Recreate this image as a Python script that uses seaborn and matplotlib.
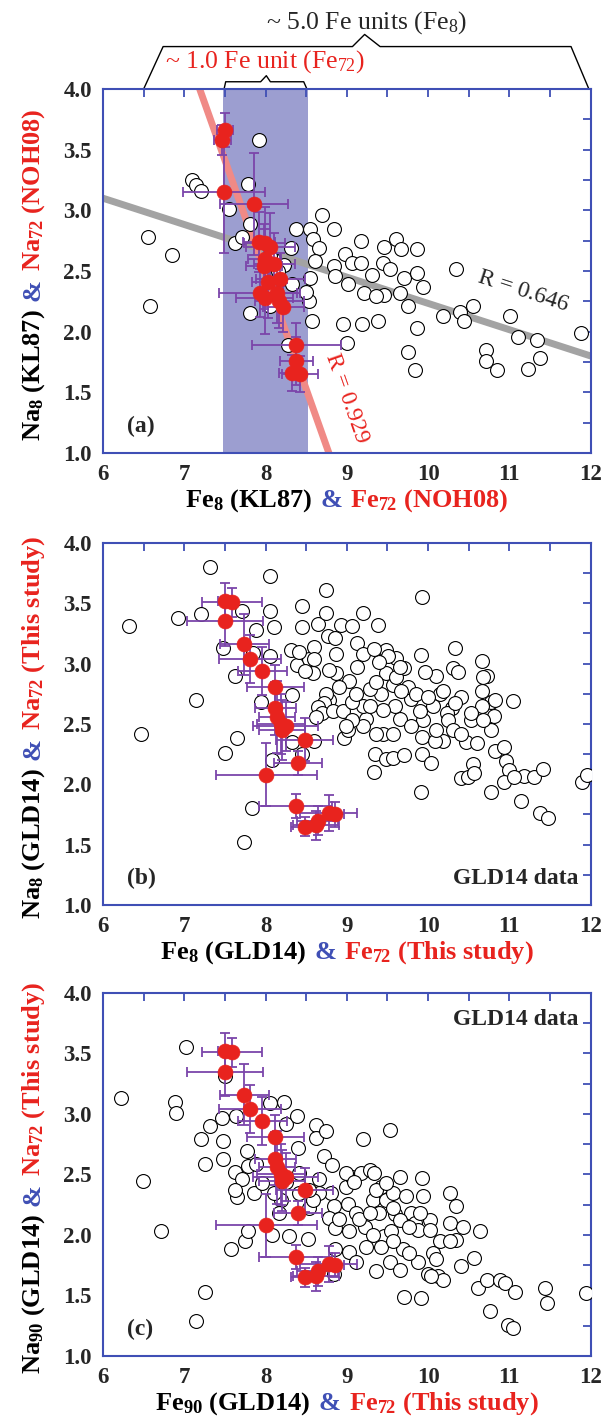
import numpy as np
import pandas as pd
import matplotlib
matplotlib.use("Agg")
import matplotlib.pyplot as plt
import seaborn as sns
from matplotlib import transforms
from matplotlib.ticker import MultipleLocator, FormatStrFormatter

sns.set_style("white")
plt.rcParams["font.family"] = ["Liberation Serif", "DejaVu Serif"]
plt.rcParams["mathtext.fontset"] = "custom"
plt.rcParams["mathtext.rm"] = "Liberation Serif"
plt.rcParams["mathtext.it"] = "Liberation Serif:italic"
plt.rcParams["mathtext.bf"] = "Liberation Serif:bold"
plt.rcParams["mathtext.default"] = "regular"

BLUE = "#3f4fb5"
RED = "#e8231e"
PURPLE = "#7b45aa"

# (a) KL87 open circles
kl87_fe8 = [6.55, 6.58, 6.85, 7.09, 7.15, 7.21, 7.92, 7.79, 7.55, 7.81, 7.63, 7.71,
            8.38, 8.31, 8.11, 8.23, 8.33, 7.81, 8.06, 8.28, 8.69, 8.84, 8.55, 8.59,
            8.66, 8.61, 8.55, 8.53, 8.57, 8.50, 8.84, 8.98, 9.07, 8.85, 9.01, 9.18,
            9.18, 9.31, 9.21, 8.95, 9.19, 9.38, 9.00, 9.46, 9.44, 9.53, 9.60, 9.67,
            9.70, 9.65, 9.46, 9.36, 9.75, 9.86, 9.86, 9.94, 9.86, 9.75, 9.84, 10.18,
            10.35, 10.39, 10.44, 10.55, 10.71, 10.71, 10.85, 11.01, 11.11, 11.23, 11.34,
            11.38, 11.88, 8.05, 8.15]
kl87_na8 = [2.78, 2.21, 2.63, 3.25, 3.21, 3.16, 3.58, 3.22, 3.01, 2.89, 2.73, 2.78,
            2.85, 2.69, 2.59, 2.55, 2.39, 2.15, 2.21, 1.89, 2.96, 2.85, 2.85, 2.76,
            2.69, 2.58, 2.44, 2.25, 2.09, 2.33, 2.54, 2.64, 2.57, 2.46, 2.39, 2.75,
            2.57, 2.47, 2.32, 2.06, 2.06, 2.09, 1.91, 2.70, 2.57, 2.52, 2.76, 2.68,
            2.44, 2.32, 2.30, 2.29, 2.21, 2.68, 2.48, 2.37, 2.03, 1.83, 1.68, 2.13,
            2.52, 2.16, 2.09, 2.21, 1.85, 1.76, 1.68, 2.13, 1.96, 1.69, 1.93,
            1.78, 1.99, 2.62, 2.50]

# (a) NOH08 red points
noh08_fe72 = [7.50, 7.47, 7.49, 7.86, 7.92, 7.99, 8.06, 7.99, 7.98, 8.11, 8.03,
              8.18, 7.93, 7.99, 8.14, 8.17, 8.22, 8.38, 8.38, 8.32, 8.42]
noh08_na72 = [3.66, 3.58, 3.15, 3.05, 2.74, 2.73, 2.70, 2.60, 2.54, 2.56, 2.41,
              2.43, 2.32, 2.28, 2.32, 2.25, 2.20, 1.89, 1.76, 1.66, 1.65]
noh08_fe_err = [0.10, 0.10, 0.50, 0.42, 0.20, 0.25, 0.30, 0.20, 0.22, 0.25, 0.20,
                0.30, 0.50, 0.35, 0.25, 0.30, 0.25, 0.55, 0.20, 0.15, 0.22]
noh08_na_err = [0.14, 0.12, 0.50, 0.42, 0.25, 0.30, 0.28, 0.25, 0.35, 0.25, 0.30,
                0.22, 0.20, 0.30, 0.25, 0.22, 0.20, 0.18, 0.20, 0.15, 0.15]

# regression trends in (a)
kl87_trend_x = [6.0, 12.0]
kl87_trend_y = [3.10, 1.80]
noh08_trend_x = [7.19, 8.78]
noh08_trend_y = [4.0, 1.0]
fe72_span = [7.48, 8.52]

# this study red points (b, c)
study_fe72 = [7.50, 7.59, 7.50, 7.74, 7.81, 7.96, 8.12, 8.12, 8.14, 8.19, 8.25,
              8.20, 8.48, 8.40, 8.01, 8.37, 8.49, 8.64, 8.78, 8.85, 8.62]
study_na72 = [3.52, 3.51, 3.35, 3.16, 3.04, 2.94, 2.81, 2.63, 2.56, 2.50, 2.48,
              2.45, 2.37, 2.18, 2.08, 1.82, 1.65, 1.70, 1.76, 1.75, 1.66]
study_fe_err = [0.08, 0.37, 0.47, 0.30, 0.38, 0.30, 0.35, 0.25, 0.22, 0.30, 0.40,
                0.28, 0.35, 0.30, 0.62, 0.45, 0.18, 0.25, 0.35, 0.12, 0.28]
study_na_err = [0.15, 0.12, 0.20, 0.25, 0.20, 0.20, 0.18, 0.22, 0.30, 0.25, 0.20,
                0.25, 0.18, 0.10, 0.26, 0.10, 0.08, 0.12, 0.15, 0.10, 0.12]

# (b) GLD14 Fe8 / Na8
gld_fe8 = [6.32, 6.47, 6.92, 7.21, 7.15, 7.32, 7.48, 7.62, 7.65, 7.50, 7.71, 7.83,
           7.74, 7.88, 7.84, 7.95, 8.05, 8.05, 8.10, 8.05, 8.08, 8.33, 8.31, 8.39,
           8.45, 8.45, 8.33, 8.45, 8.60, 8.54, 8.60, 8.58, 8.64, 8.74, 8.74, 8.77,
           8.85, 8.93, 9.07, 9.20, 9.12, 9.39, 9.48, 9.60, 9.92, 9.91, 10.33, 10.31,
           10.37, 10.67, 10.72, 11.05, 8.97, 9.01, 9.35, 9.34, 9.48, 9.57, 9.71, 9.92,
           10.04, 9.91, 10.19, 10.40, 10.49, 10.55, 10.47, 10.60, 10.78, 10.82, 10.93,
           10.96, 11.00, 10.93, 11.15, 11.18, 11.30, 11.42, 11.38, 11.48, 11.90, 11.96,
           10.78, 10.81, 10.77, 10.82, 10.66, 10.66, 10.53, 10.40, 10.29, 10.23, 10.15,
           10.10, 9.96, 9.94, 9.92, 10.08, 10.10, 9.79, 9.75, 9.71, 9.65, 9.59, 9.57,
           9.48, 9.51, 9.42, 9.44, 9.44, 9.28, 9.24, 9.20, 9.13, 9.03, 8.91, 8.87,
           8.78, 8.78, 8.74, 8.72, 8.64, 8.70, 8.83, 8.95, 9.07, 9.11, 9.28, 9.36,
           9.40, 9.61, 9.85, 9.90, 9.79, 9.57, 9.36, 9.20, 9.07, 8.99, 10.06, 10.25,
           10.31, 10.41, 10.19, 10.68, 9.65, 9.20, 9.34, 8.87, 8.41, 8.60, 8.49, 8.62,
           9.67, 10.00, 10.33, 10.53, 10.68, 11.06, 10.56]
gld_na8 = [3.31, 2.42, 3.38, 3.41, 2.70, 3.80, 3.13, 2.90, 2.38, 2.26, 3.44, 1.80,
           1.52, 3.28, 3.09, 2.68, 3.73, 3.44, 3.30, 3.06, 2.20, 2.74, 3.11, 2.99,
           3.48, 3.30, 2.35, 2.25, 2.36, 3.04, 3.14, 2.92, 3.33, 3.61, 3.42, 3.23,
           3.21, 3.32, 3.31, 3.42, 3.17, 3.32, 3.11, 3.05, 3.55, 3.07, 3.13, 2.96,
           2.93, 3.02, 2.90, 2.69, 2.38, 2.45, 2.25, 2.10, 2.21, 2.22, 2.24, 2.25,
           2.18, 1.94, 2.36, 2.05, 2.06, 2.17, 2.35, 2.34, 1.94, 2.28, 2.31,
           2.19, 2.12, 2.02, 1.86, 2.07, 2.06, 2.13, 1.76, 1.72, 2.02, 2.08,
           2.45, 2.57, 2.68, 2.70, 2.77, 2.65, 2.53, 2.72, 2.63, 2.59, 2.75,
           2.90, 2.93, 2.53, 2.39, 2.36, 2.45, 2.71, 2.81, 2.96, 2.54, 2.65, 2.82,
           2.92, 3.06, 2.75, 2.62, 2.42, 2.79, 2.54, 2.65, 2.97, 2.86, 2.81, 2.92,
           2.95, 2.70, 2.75, 2.67, 2.64, 2.59, 2.61, 2.61, 2.68, 2.75, 2.65, 2.85,
           3.01, 2.89, 2.75, 2.61, 2.48, 2.42, 2.42, 2.48, 2.53, 2.48, 2.65, 2.53,
           2.45, 2.42, 2.77, 2.89, 2.97, 3.08, 3.12, 3.08, 3.10, 3.04, 2.94, 2.56,
           2.77, 2.72, 2.67, 2.59, 2.53, 2.06, 2.09]

# (c) GLD14 Fe90 / Na90
gld_fe90 = [6.22, 6.49, 6.71, 6.89, 6.90, 7.02, 7.15, 7.25, 7.20, 7.26, 7.32, 7.48,
            7.48, 7.46, 7.50, 7.57, 7.63, 7.65, 7.64, 7.75, 7.77, 7.79, 7.71, 7.86,
            7.88, 7.96, 8.06, 8.08, 8.19, 8.23, 8.25, 8.29, 8.39, 8.40, 8.41, 8.52,
            8.54, 8.62, 8.62, 8.74, 8.72, 8.66, 8.82, 8.80, 8.84, 8.78, 8.86, 8.86,
            8.84, 8.99, 9.01, 9.03, 9.07, 9.11, 9.17, 9.20, 9.11, 9.22, 9.24, 9.28,
            9.32, 9.34, 9.36, 9.40, 9.42, 9.46, 9.48, 9.53, 9.53, 9.55, 9.57, 9.59,
            9.65, 9.65, 9.69, 9.71, 9.73, 9.79, 9.84, 9.88, 9.91, 9.93, 9.94, 10.00,
            10.02, 10.06, 10.10, 10.12, 10.19, 10.15, 10.27, 10.35, 10.27, 10.35, 10.43,
            10.40, 10.56, 10.64, 10.62, 10.72, 10.76, 10.89, 10.95, 11.07, 10.99, 11.05,
            11.44, 11.46, 11.94, 9.15, 8.90, 8.99, 9.09, 9.36, 9.48, 9.57, 9.65, 9.77,
            9.90, 9.28, 9.32, 9.03, 9.42, 9.57, 10.02, 10.27, 10.04, 9.88, 9.77, 8.66,
            8.58, 8.54, 8.17, 8.10, 7.79, 8.25, 8.41, 7.63]
gld_na90 = [3.13, 2.45, 2.03, 3.10, 3.01, 3.55, 1.29, 1.53, 2.79, 2.59, 2.90, 2.78,
            2.63, 2.97, 3.31, 1.88, 2.52, 2.31, 2.98, 1.95, 2.69, 2.57, 2.46, 2.35,
            2.59, 2.43, 3.09, 2.00, 2.29, 3.10, 2.92, 1.99, 2.98, 2.72, 2.51, 1.97,
            2.22, 2.91, 2.80, 2.86, 2.65, 2.46, 2.58, 2.35, 2.24, 2.14, 2.06, 1.88,
            1.68, 2.40, 2.26, 1.86, 2.48, 2.18, 2.51, 2.79, 1.78, 2.07, 1.90, 2.54,
            2.29, 2.51, 1.70, 2.18, 2.40, 1.99, 2.29, 2.87, 1.78, 2.03, 2.35, 2.17,
            2.48, 1.71, 1.88, 1.49, 2.32, 2.18, 2.10, 2.04, 1.48, 2.47, 2.32, 1.68,
            2.12, 1.85, 1.80, 1.66, 1.63, 1.95, 2.35, 2.24, 2.10, 1.96, 2.07,
            1.74, 1.81, 2.03, 1.56, 1.63, 1.37, 1.63, 1.60, 1.53, 1.26, 1.23,
            1.56, 1.44, 1.52, 2.13, 2.13, 2.51, 2.44, 2.37, 2.43, 2.22, 2.12, 2.07,
            2.18, 2.18, 2.00, 2.03, 1.90, 1.95, 2.04, 1.95, 1.66, 1.78, 1.85, 2.35,
            2.29, 2.37, 2.18, 2.35, 2.03, 2.44, 2.35, 2.37]

fig = plt.figure(figsize=(6.12, 14.2), dpi=100)
ax_a = fig.add_axes([0.1683, 0.681, 0.7966, 0.2563])
ax_b = fig.add_axes([0.1683, 0.3627, 0.7966, 0.2549])
ax_c = fig.add_axes([0.1683, 0.0451, 0.7966, 0.2556])


def style_axes(ax):
    ax.set_xlim(6, 12)
    ax.set_ylim(1, 4)
    ax.set_xlabel("")
    ax.set_ylabel("")
    ax.xaxis.set_major_locator(MultipleLocator(1))
    ax.xaxis.set_minor_locator(MultipleLocator(0.5))
    ax.yaxis.set_major_locator(MultipleLocator(0.5))
    ax.yaxis.set_minor_locator(MultipleLocator(0.25))
    ax.yaxis.set_major_formatter(FormatStrFormatter("%.1f"))
    ax.tick_params(which="both", direction="in", top=True, right=True,
                   color=BLUE, length=6, width=1.3, labelsize=16.5, pad=8)
    for sp in ax.spines.values():
        sp.set_color(BLUE)
        sp.set_linewidth(1.5)
    for lab in ax.get_xticklabels() + ax.get_yticklabels():
        lab.set_fontweight("bold")


def multicolor(ax, parts, pos, vertical=False, size=19):
    r = fig.canvas.get_renderer()
    gap = 0.3 * size * fig.dpi / 72
    texts, lengths = [], []
    for s, c in parts:
        t = ax.text(pos[0], pos[1], s, color=c, fontsize=size, fontweight="bold",
                    transform=ax.transAxes, rotation=90 if vertical else 0,
                    rotation_mode="anchor", ha="left", va="baseline")
        bb = t.get_window_extent(r)
        texts.append(t)
        lengths.append(bb.height if vertical else bb.width)
    off = -(sum(lengths) + gap * (len(parts) - 1)) / 2
    for t, L in zip(texts, lengths):
        dx, dy = (0, off) if vertical else (off, 0)
        t.set_transform(ax.transAxes + transforms.ScaledTranslation(
            dx / fig.dpi, dy / fig.dpi, fig.dpi_scale_trans))
        off += L + gap


def open_circles(ax, x, y):
    df = pd.DataFrame({"fe": x, "na": y})
    sns.scatterplot(data=df, x="fe", y="na", ax=ax, s=100, color="white",
                    edgecolor="black", linewidth=0.8, zorder=3)


def red_points(ax, x, y, xerr, yerr):
    ax.errorbar(x, y, xerr=xerr, yerr=yerr, fmt="none", ecolor=PURPLE,
                elinewidth=1.3, capsize=3.5, capthick=1.3, zorder=4)
    df = pd.DataFrame({"fe": x, "na": y})
    sns.scatterplot(data=df, x="fe", y="na", ax=ax, s=115, color=RED,
                    edgecolor=RED, linewidth=0.5, zorder=5)


# (a)
ax_a.axvspan(fe72_span[0], fe72_span[1], color="#9c9ed0", zorder=0, lw=0)
sns.lineplot(x=kl87_trend_x, y=kl87_trend_y, ax=ax_a, color="#a3a3a3", lw=5, zorder=1)
sns.lineplot(x=noh08_trend_x, y=noh08_trend_y, ax=ax_a, color="#f08a86", lw=5, zorder=2)
open_circles(ax_a, kl87_fe8, kl87_na8)
red_points(ax_a, noh08_fe72, noh08_na72, noh08_fe_err, noh08_na_err)
style_axes(ax_a)
ax_a.text(11.17, 2.33, "R = 0.646", fontsize=17, rotation=-18, ha="center", va="center")
ax_a.text(9.0, 1.45, "R = 0.929", fontsize=17, rotation=-70.6, color=RED,
          ha="center", va="center")
ax_a.text(6.3, 1.22, "(a)", fontsize=17, fontweight="bold", va="center")

# brackets above (a)
ax_a.plot([6.50, 6.74, 9.07, 9.22, 9.41, 11.76, 11.98],
          [4.0, 4.35, 4.35, 4.45, 4.35, 4.35, 4.0], color="black", lw=1, clip_on=False)
ax_a.plot([7.49, 7.51, 7.94, 8.01, 8.06, 8.47, 8.51],
          [4.0, 4.06, 4.06, 4.11, 4.06, 4.06, 4.0], color="black", lw=1, clip_on=False)
ax_a.text(9.24, 4.55, "~ 5.0 Fe units (Fe$_8$)", fontsize=18.5, ha="center", va="center")
ax_a.text(7.99, 4.23, "~ 1.0 Fe unit (Fe$_{72}$)", fontsize=18.5, ha="center",
          va="center", color=RED)

# (b)
open_circles(ax_b, gld_fe8, gld_na8)
red_points(ax_b, study_fe72, study_na72, study_fe_err, study_na_err)
style_axes(ax_b)
ax_b.text(6.3, 1.22, "(b)", fontsize=17, fontweight="bold", va="center")
ax_b.text(11.85, 1.22, "GLD14 data", fontsize=17, fontweight="bold", ha="right", va="center")

# (c)
open_circles(ax_c, gld_fe90, gld_na90)
red_points(ax_c, study_fe72, study_na72, study_fe_err, study_na_err)
style_axes(ax_c)
ax_c.text(6.3, 1.22, "(c)", fontsize=17, fontweight="bold", va="center")
ax_c.text(11.85, 3.78, "GLD14 data", fontsize=17, fontweight="bold", ha="right", va="center")

labels = [
    (ax_a, "Fe$_8$ (KL87)", "Fe$_{72}$ (NOH08)", "Na$_8$ (KL87)", "Na$_{72}$ (NOH08)"),
    (ax_b, "Fe$_8$ (GLD14)", "Fe$_{72}$ (This study)", "Na$_8$ (GLD14)", "Na$_{72}$ (This study)"),
    (ax_c, "Fe$_{90}$ (GLD14)", "Fe$_{72}$ (This study)", "Na$_{90}$ (GLD14)", "Na$_{72}$ (This study)"),
]
for ax, xl1, xl2, yl1, yl2 in labels:
    multicolor(ax, [(xl1, "black"), ("&", BLUE), (xl2, RED)], (0.5, -0.148))
    multicolor(ax, [(yl1, "black"), ("&", BLUE), (yl2, RED)], (-0.13, 0.49), vertical=True)

fig.savefig("out.png", dpi=100)
